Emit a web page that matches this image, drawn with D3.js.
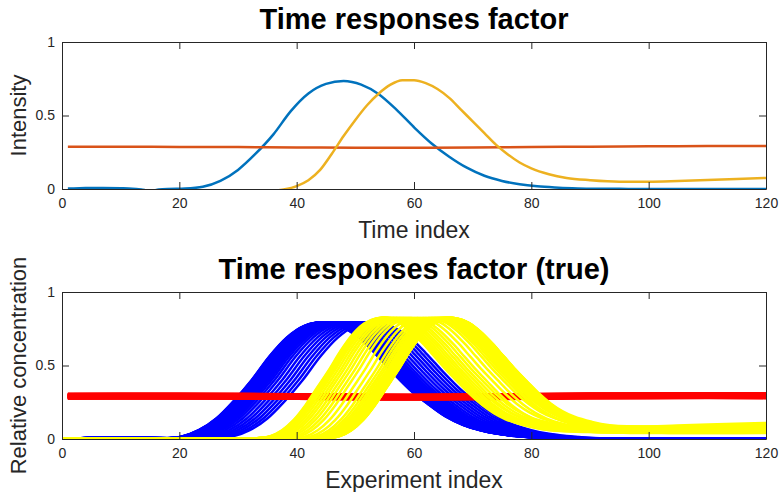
<!DOCTYPE html>
<html>
<head>
<meta charset="utf-8">
<script src="https://cdn.jsdelivr.net/npm/d3@7"></script>
<style>
  body { margin: 0; background: #fff; }
  text { font-family: "Liberation Sans", Arial, sans-serif; }
</style>
</head>
<body>
<div id="chart"></div>
<script>
var svgWidth = 779;
var svgHeight = 492;

// ticks
var xTicks = [0, 20, 40, 60, 80, 100, 120];
var yTicks = [0, 0.5, 1];
var yTickLabels = ["0", "0.5", "1"];

// top panel: estimated factor profiles
var topBlueX = [1, 4, 7, 10, 12, 13.5, 15, 16.5, 18, 21, 24, 27, 30, 33, 36, 39, 42, 45, 48, 51, 54, 57, 60, 63, 66, 69, 72, 75, 78, 81, 84, 87, 90, 95, 100, 110, 120];
var topBlueY = [0.003, 0.006, 0.007, 0.005, 0.002, -0.004, -0.012, -0.004, 0.0, 0.003, 0.015, 0.055, 0.13, 0.24, 0.37, 0.53, 0.65, 0.715, 0.735, 0.71, 0.645, 0.54, 0.42, 0.31, 0.22, 0.145, 0.09, 0.055, 0.032, 0.018, 0.01, 0.005, 0.002, 0.001, 0.0, 0.0, 0.0];

var topRedX = [1, 10, 20, 30, 40, 50, 60, 70, 80, 90, 100, 110, 120];
var topRedY = [0.287, 0.287, 0.286, 0.285, 0.283, 0.28, 0.28, 0.282, 0.285, 0.288, 0.29, 0.292, 0.293];

var topYellowX = [36, 38, 40, 42, 44, 46, 48, 50, 52, 54, 56, 58, 60, 62, 64, 66, 68, 70, 72, 74, 76, 78, 80, 83, 86, 90, 95, 100, 105, 110, 115, 120];
var topYellowY = [-0.012, -0.002, 0.02, 0.06, 0.13, 0.24, 0.36, 0.47, 0.57, 0.65, 0.71, 0.74, 0.74, 0.72, 0.68, 0.62, 0.54, 0.46, 0.38, 0.30, 0.235, 0.18, 0.14, 0.10, 0.075, 0.06, 0.05, 0.05, 0.055, 0.062, 0.068, 0.075];

// bottom panel: true profile shapes (x relative to the peak)
var blueRel = [-60, -42, -38, -34, -30, -27, -24, -21, -18, -15, -12, -9, -6, -3, 0, 3, 6, 9, 12, 15, 18, 21, 24, 27, 30, 33, 36, 40, 45, 50, 80];
var blueShape = [0.0, 0.005, 0.01, 0.005, -0.002, 0.003, 0.016, 0.06, 0.14, 0.26, 0.40, 0.56, 0.69, 0.77, 0.795, 0.77, 0.70, 0.585, 0.455, 0.335, 0.24, 0.155, 0.097, 0.06, 0.035, 0.02, 0.011, 0.005, 0.002, 0.0, 0.0];

var yellowRel = [-70, -24, -21, -19, -17, -15, -13, -11, -9, -7, -5, -3, -1, 0, 1, 3, 5, 7, 9, 11, 13, 15, 17, 19, 21, 24, 27, 30, 35, 40, 50, 60, 70, 80];
var yellowBump = [0.003, 0.002, 0.006, 0.02, 0.06, 0.13, 0.23, 0.35, 0.47, 0.60, 0.71, 0.785, 0.82, 0.825, 0.82, 0.79, 0.73, 0.65, 0.56, 0.47, 0.385, 0.30, 0.225, 0.165, 0.12, 0.075, 0.045, 0.03, 0.02, 0.013, 0.008, 0.005, 0.003, 0.0];
var yellowTail = [0, 0, 0, 0, 0, 0, 0, 0, 0, 0, 0, 0, 0, 0, 0, 0, 0, 0, 0, 0, 0.002, 0.006, 0.012, 0.018, 0.024, 0.032, 0.038, 0.043, 0.049, 0.054, 0.064, 0.076, 0.085, 0.09];

var redX = [1, 10, 20, 30, 40, 50, 60, 70, 80, 90, 100, 110, 120];
var redBase = [0.291, 0.292, 0.292, 0.291, 0.289, 0.286, 0.285, 0.287, 0.29, 0.293, 0.294, 0.295, 0.294];

// one entry per experiment
var bluePeak = [53.0, 52.3, 51.6, 50.9, 50.2, 49.5, 48.8, 48.2, 47.7, 47.3, 47.1, 46.9, 46.7, 46.55, 46.4, 46.25, 46.1, 45.95, 45.8, 45.7, 45.6, 45.5, 45.4, 45.3, 45.2, 45.1, 45.0, 44.9, 44.85, 44.8, 44.75, 44.7, 44.65, 44.6, 44.55, 44.5, 44.45, 44.4, 44.35, 44.3];
var yellowPeak = [54.5, 54.6, 54.7, 54.8, 54.9, 55.0, 55.1, 55.25, 55.4, 55.55, 56.0, 56.5, 57.0, 57.6, 58.2, 58.9, 59.6, 60.6, 61.6, 62.5, 63.1, 63.6, 64.0, 64.4, 64.7, 64.9, 65.1, 65.3, 65.45, 65.6, 65.7, 65.8, 65.9, 66.0, 66.1, 66.2, 66.25, 66.3, 66.3, 66.35];
var tailWeight = [1.1, 0.6, 0.95, 1.3, 0.8, 1.0, 0.55, 1.2, 0.9, 0.7, 1.05, 0.85, 1.25, 0.65, 0.95, 1.15, 0.5, 1.0, 0.8, 1.2, 0.9, 0.6, 1.05, 0.85, 1.3, 0.75, 0.95, 0.55, 1.1, 0.8, 1.0, 0.9, 0.7, 1.2, 0.85, 0.5, 1.05, 0.95, 0.7, 1.3];
var redOffset = [0.012, -0.008, 0.003, -0.015, 0.007, -0.002, 0.016, -0.011, 0.0, 0.009, -0.005, 0.014, -0.013, 0.005, -0.009, 0.002, 0.011, -0.016, 0.006, -0.003, 0.013, -0.007, 0.001, -0.012, 0.008, -0.004, 0.015, -0.01, 0.004, -0.001, 0.01, -0.014, 0.006, -0.006, 0.012, -0.009, 0.003, -0.002, 0.009, -0.011];

var svg = d3.select("#chart")
    .append("svg")
    .attr("width", svgWidth)
    .attr("height", svgHeight)
    .style("background", "#fff");

var plotLeft = 62, plotRight = 766;

function drawPanel(top, bottom, title, xLabel, yLabel, id) {
    var x = d3.scaleLinear().domain([0, 120]).range([plotLeft, plotRight]);
    var y = d3.scaleLinear().domain([0, 1]).range([bottom, top]);

    svg.append("clipPath").attr("id", id)
        .append("rect")
        .attr("x", plotLeft).attr("y", top)
        .attr("width", plotRight - plotLeft).attr("height", bottom - top);

    var plot = svg.append("g").attr("clip-path", `url(#${id})`);

    var axisColor = "#262626";
    var axes = [
        { g: d3.axisBottom(x).tickValues(xTicks).tickSizeInner(-7).tickSizeOuter(0).tickPadding(9), t: `translate(0,${bottom})` },
        { g: d3.axisTop(x).tickValues(xTicks).tickSizeInner(-7).tickSizeOuter(0).tickFormat(""), t: `translate(0,${top})` },
        { g: d3.axisLeft(y).tickValues(yTicks).tickSizeInner(-7).tickSizeOuter(0).tickPadding(7)
              .tickFormat((d, i) => yTickLabels[i]), t: `translate(${plotLeft},0)` },
        { g: d3.axisRight(y).tickValues(yTicks).tickSizeInner(-7).tickSizeOuter(0).tickFormat(""), t: `translate(${plotRight},0)` }
    ];
    axes.forEach(function(a) {
        var ag = svg.append("g").attr("transform", a.t).call(a.g);
        ag.select(".domain").attr("stroke", axisColor);
        ag.selectAll(".tick line").attr("stroke", axisColor);
        ag.selectAll(".tick text")
            .attr("fill", axisColor)
            .style("font-size", "14px")
            .style("font-family", '"Liberation Sans", Arial, sans-serif');
    });

    svg.append("text")
        .attr("x", (plotLeft + plotRight) / 2)
        .attr("y", top - 13)
        .attr("text-anchor", "middle")
        .style("font-size", "29px")
        .style("font-weight", "bold")
        .attr("fill", "#000")
        .text(title);

    svg.append("text")
        .attr("x", (plotLeft + plotRight) / 2)
        .attr("y", bottom + 49)
        .attr("text-anchor", "middle")
        .style("font-size", "23px")
        .attr("fill", axisColor)
        .text(xLabel);

    svg.append("text")
        .attr("transform", `translate(26, ${(top + bottom) / 2}) rotate(-90)`)
        .attr("text-anchor", "middle")
        .style("font-size", "22px")
        .attr("fill", axisColor)
        .text(yLabel);

    return { x: x, y: y, plot: plot };
}

function pairs(xs, ys) {
    return xs.map((v, i) => [v, ys[i]]);
}

// top panel
var p1 = drawPanel(42, 189, "Time responses factor", "Time index", "Intensity", "clipTop");
var line1 = d3.line().x(d => p1.x(d[0])).y(d => p1.y(d[1])).curve(d3.curveMonotoneX);

var topSeries = [
    { data: pairs(topBlueX, topBlueY), color: "#0072BD" },
    { data: pairs(topRedX, topRedY), color: "#D95319" },
    { data: pairs(topYellowX, topYellowY), color: "#EDB120" }
];
p1.plot.selectAll("path.factor")
    .data(topSeries)
    .enter()
    .append("path")
    .attr("class", "factor")
    .attr("d", d => line1(d.data))
    .attr("fill", "none")
    .attr("stroke", d => d.color)
    .attr("stroke-width", 2.5);

// bottom panel
var p2 = drawPanel(292, 439, "Time responses factor (true)", "Experiment index", "Relative concentration", "clipBottom");
var line2 = d3.line().x(d => p2.x(d[0])).y(d => p2.y(d[1])).curve(d3.curveMonotoneX);

var blueLines = bluePeak.map(bp => blueRel.map((r, k) => [bp + r, blueShape[k]]));
var redLines = redOffset.map(off => redX.map((v, k) => [v, redBase[k] + off]));
var yellowLines = yellowPeak.map((yp, i) => yellowRel.map((r, k) => [yp + r, yellowBump[k] + tailWeight[i] * yellowTail[k]]));

var trueGroups = [
    { lines: blueLines, color: "#0000FF" },
    { lines: redLines, color: "#FF0000" },
    { lines: yellowLines, color: "#FFFF00" }
];
trueGroups.forEach(function(grp) {
    p2.plot.append("g")
        .selectAll("path")
        .data(grp.lines)
        .enter()
        .append("path")
        .attr("d", d => line2(d))
        .attr("fill", "none")
        .attr("stroke", grp.color)
        .attr("stroke-width", 2.5);
});
</script>
</body>
</html>
